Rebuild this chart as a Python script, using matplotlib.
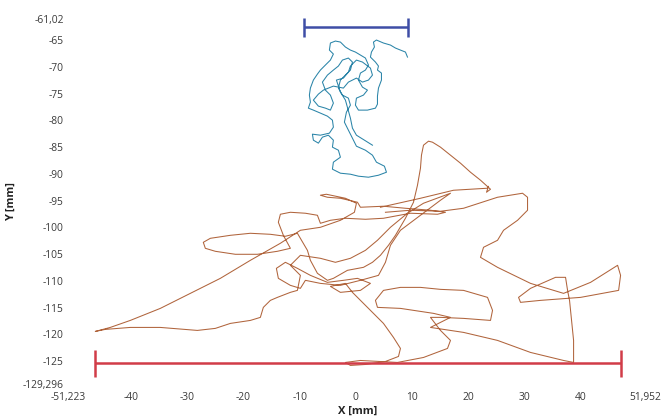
import matplotlib
matplotlib.use("Agg")
import matplotlib.pyplot as plt
from matplotlib.transforms import ScaledTranslation

# axis range and tick labels (decimal comma as in the original export)
x_min, x_max = -51.223, 51.952
y_min, y_max = -129.296, -61.02
x_ticks = [-51.223, -40, -30, -20, -10, 0, 10, 20, 30, 40, 51.952]
x_tick_labels = ['-51,223', '-40', '-30', '-20', '-10', '0', '10', '20', '30', '40', '51,952']
y_ticks = [-61.02, -65, -70, -75, -80, -85, -90, -95, -100, -105, -110, -115, -120, -125, -129.296]
y_tick_labels = ['-61,02', '-65', '-70', '-75', '-80', '-85', '-90', '-95', '-100', '-105',
                 '-110', '-115', '-120', '-125', '-129,296']

# small (blue) trajectory, mm
blue_x = [9.17, 8.81, 7.92, 7.03, 6.14, 4.90, 3.65, 3.12, 3.29, 2.76, 2.58, 3.47, 4.01, 3.83, 4.54,
          4.54, 4.01, 3.83, 3.83, 3.47, 2.05, 0.45, -0.09, 0.09, 1.34, 2.05, 1.16, 0.45, 0.80, 1.69,
          2.23, 1.69, 0.80, -0.09, -0.98, -1.87, -2.76, -3.65, -4.54, -4.72, -4.01, -4.54, -5.43,
          -6.32, -6.85, -7.57, -8.10, -8.28, -8.10, -8.46, -7.57, -6.32, -5.07, -4.18, -4.01, -4.72,
          -6.32, -7.74, -7.57, -6.68, -5.96, -4.90, -4.01, -4.18, -3.12, -2.76, -4.01, -4.18, -2.76,
          -0.98, 0.45, 2.23, 4.01, 5.43, 5.07, 3.65, 2.94, 1.69, 0.09, -0.62, -1.34, -2.05, -1.69,
          -0.98, -1.34, -2.40, -3.12, -2.76, -1.87, -0.98, -0.62, -1.34, -2.40, -3.12, -4.01, -5.07,
          -5.96, -5.43, -4.54, -4.01, -4.54, -5.43, -6.68, -7.57, -6.68, -5.79, -4.01, -2.23, -1.34,
          0.09, 1.16, 2.23, 2.94, 2.58, 1.16, 0.09, -0.98, -1.34, -2.23, -3.47, -2.76, -1.87, -0.98,
          -0.62, 0.09, 1.51, 2.94]
blue_y = [-68.14, -67.20, -66.83, -66.45, -65.89, -65.51, -64.95, -65.33, -66.26, -67.20, -68.14,
          -69.07, -69.82, -70.57, -71.13, -72.44, -73.94, -75.44, -76.94, -77.69, -78.06, -78.06,
          -77.13, -75.82, -75.25, -74.32, -73.76, -72.44, -71.13, -70.57, -69.63, -68.32, -67.76,
          -67.20, -66.83, -66.26, -65.33, -65.14, -65.51, -66.83, -67.57, -68.70, -69.63, -70.57,
          -71.32, -72.44, -73.94, -75.25, -76.56, -77.69, -78.06, -78.62, -79.19, -79.94, -81.25,
          -82.37, -82.75, -82.56, -83.68, -84.24, -83.12, -82.75, -83.68, -84.99, -85.56, -86.87,
          -87.80, -89.11, -89.86, -90.05, -90.42, -90.61, -90.24, -89.68, -88.55, -87.80, -86.49,
          -85.56, -84.81, -83.31, -81.81, -80.31, -78.44, -77.13, -75.82, -75.25, -73.94, -72.44,
          -71.51, -70.57, -69.07, -68.32, -68.70, -69.82, -70.57, -71.51, -72.82, -74.32, -75.25,
          -76.75, -78.06, -77.69, -77.31, -76.19, -75.07, -74.32, -73.57, -73.94, -72.82, -72.07,
          -72.82, -72.44, -71.51, -70.20, -69.07, -68.70, -69.82, -70.95, -72.07, -72.44, -74.69,
          -76.19, -79.56, -81.43, -82.75, -83.68, -84.62]

# large (orange) trajectory, mm
orange_x = [4.36, 11.48, 17.36, 23.41, 23.59, 23.23, 23.94, 22.16, 20.38, 18.60, 16.82, 15.04,
            13.62, 12.91, 12.02, 11.66, 11.48, 10.95, 10.24, 8.81, 7.03, 5.79, 4.36, 2.94, 1.34,
            -1.51, -4.01, -5.07, -6.85, -8.10, -8.63, -10.41, -12.55, -15.22, -18.78, -22.34,
            -25.90, -27.15, -26.79, -25.01, -21.45, -17.53, -13.97, -11.66, -12.91, -13.80, -13.44,
            -11.66, -8.99, -6.85, -6.32, -4.54, -1.87, 1.69, 4.90, 9.70, 14.51, 15.93, 13.26, 8.81,
            4.90, 0.80, 0.27, -2.76, -5.07, -6.32, -5.25, -1.87, 0.09, -0.27, -2.76, -6.32, -9.88,
            -13.44, -18.78, -24.12, -29.46, -34.80, -40.14, -43.70, -46.37, -44.59, -40.14, -34.80,
            -28.21, -25.01, -22.34, -18.78, -17.00, -16.47, -15.22, -13.97, -11.66, -10.41,
            -9.88, -11.66, -9.88, -6.32, -3.65, -0.98, 1.69, 3.83, 6.14, 9.17, 12.02, 16.82, 15.04,
            11.48, 7.92, 6.14, 5.25, 4.01, 0.80, -2.76, -6.32, -8.99, -9.88,
            -11.66, -13.80, -14.15, -12.55, -10.41, -8.10, -5.07, -2.23, 0.27, 2.58, 0.80, -2.76,
            -4.54, -1.87, -0.62, 2.05, 4.90, 6.68, 7.92, 7.57, 5.25, 1.69, -0.98, -1.87, 0.80, 4.36,
            7.39, 12.02, 16.29, 16.82, 15.04, 13.26,
            15.04, 19.14, 23.94, 24.30, 23.41, 19.14, 15.04, 11.48, 7.92, 4.90, 3.47, 3.83, 7.92,
            13.80, 16.82, 15.04, 13.26,
            19.14, 25.19, 31.06, 36.94, 38.72,
            38.72, 38.36, 38.00, 37.65, 37.29, 35.51, 31.06, 28.93, 29.28, 32.84, 39.96, 46.73,
            47.08, 46.55, 41.74, 36.94, 31.06, 25.19, 22.16, 22.70, 25.19, 26.26, 28.75, 30.53,
            30.53, 29.64, 25.19, 19.14, 15.04, 9.70, 5.25]
orange_y = [-96.23, -94.55, -93.05, -92.67, -92.30, -93.42, -92.86, -91.17, -89.68, -87.99, -86.49,
            -84.99, -84.06, -83.87, -84.62, -86.49, -88.93, -92.11, -95.29, -98.29, -101.48,
            -103.35, -105.22, -106.53, -107.47, -108.03, -109.53, -109.90, -108.59, -106.16,
            -104.29, -101.10, -101.66, -101.29, -101.10, -101.48, -102.04, -102.79, -103.91,
            -104.47, -105.03, -105.03, -104.47, -103.91, -101.48, -99.04, -97.54, -97.17, -97.35,
            -97.73, -99.23, -98.67, -98.29, -98.48, -98.29, -97.35, -97.54, -97.17, -96.79, -96.42,
            -96.04, -96.23, -95.29, -94.55, -94.36, -93.98, -93.80, -94.55, -95.48, -97.17, -98.67,
            -99.98, -100.54, -102.97, -106.16, -109.53, -112.34, -115.15, -117.40, -118.71,
            -119.46, -119.08, -118.71, -118.71, -119.27, -118.89, -117.96, -117.40, -116.83,
            -114.96, -113.65, -113.09, -112.15, -111.78,
            -108.97, -107.09, -105.22, -105.78, -106.53, -105.78, -104.29, -102.41, -99.98,
            -97.35, -95.48, -93.61, -94.92, -97.73, -100.54, -103.35, -106.53, -108.97, -109.90,
            -110.84, -110.47, -109.90, -111.40,
            -110.84, -109.53, -107.66, -106.53, -107.66, -108.97, -110.28, -109.90, -109.53,
            -110.47, -111.78, -112.15,
            -111.03, -110.47, -112.15, -114.96, -117.96, -120.58, -122.64, -124.14, -125.08,
            -125.64, -125.82, -125.26, -124.89, -125.08, -125.26, -124.33, -122.64, -121.14,
            -119.27, -116.83,
            -116.83, -117.02, -117.40, -115.52, -113.09, -111.78, -111.59, -111.22, -111.22,
            -111.78, -113.65, -114.96, -115.15, -116.08, -116.83, -117.77, -118.71,
            -119.64, -121.14, -123.39, -124.89, -125.26,
            -121.14, -117.40, -113.65, -111.78, -109.34, -109.34, -111.40, -113.09, -114.02,
            -113.65, -113.09, -111.78, -108.97, -107.09, -110.28, -112.34, -110.47, -107.47,
            -105.60, -103.72, -102.41, -100.54, -98.67, -96.79, -94.36, -93.61, -94.36, -96.42,
            -96.98, -96.79, -97.17]

# scale bars: x extent and height, mm
blue_bar_x = [-9.2, 9.3]
blue_bar_y = -62.57
red_bar_x = [-46.5, 47.1]
red_bar_y = -125.4

fig = plt.figure(figsize=(6.62, 4.19), dpi=100)
fig.patch.set_facecolor('white')
ax = fig.add_axes([0.1027, 0.0835, 0.8761, 0.8711])

ax.plot(orange_x, orange_y, color='#b0643c', linewidth=0.75, solid_joinstyle='round')
ax.plot(blue_x, blue_y, color='#2a84a8', linewidth=0.75, solid_joinstyle='round')

# scale bars with end caps
ax.hlines(blue_bar_y, blue_bar_x[0], blue_bar_x[1], color='#3f4ea6', linewidth=1.8, clip_on=False)
ax.vlines(blue_bar_x, blue_bar_y - 1.75, blue_bar_y + 1.75, color='#3f4ea6', linewidth=1.8, clip_on=False)
ax.hlines(red_bar_y, red_bar_x[0], red_bar_x[1], color='#d13c48', linewidth=1.8, clip_on=False)
ax.vlines(red_bar_x, red_bar_y - 2.5, red_bar_y + 2.5, color='#d13c48', linewidth=1.8, clip_on=False)

ax.set_xlim(x_min, x_max)
ax.set_ylim(y_min, y_max)
ax.set_xticks(x_ticks)
ax.set_xticklabels(x_tick_labels)
ax.set_yticks(y_ticks)
ax.set_yticklabels(y_tick_labels)
ax.tick_params(length=0, labelsize=7.4, labelcolor='#3a3a3a', pad=3)
ax.tick_params(axis='x', pad=6)
for lab in ax.get_xticklabels() + ax.get_yticklabels():
    lab.set_family('Open Sans')
# keep the last x label inside the figure edge
last = ax.get_xticklabels()[-1]
last.set_transform(last.get_transform() + ScaledTranslation(-3 / 100, 0, fig.dpi_scale_trans))
for s in ax.spines.values():
    s.set_visible(False)

ax.set_xlabel('X [mm]', fontsize=8, fontweight='bold', family='Open Sans', color='#222222', labelpad=2)
ax.set_ylabel('Y [mm]', fontsize=8, fontweight='bold', family='Open Sans', color='#222222', labelpad=4)

fig.savefig('out.png', dpi=100)
